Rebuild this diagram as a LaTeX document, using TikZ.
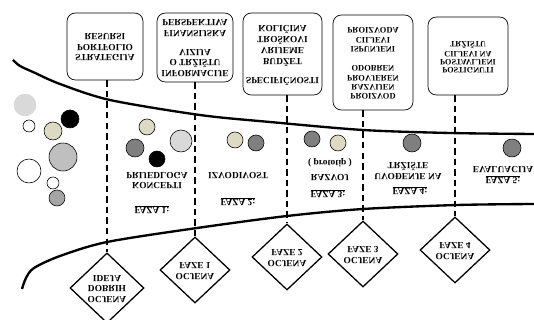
\documentclass[tikz,border=0pt]{standalone}
\usepackage{fontspec}
\setmainfont{Liberation Serif}
\usepackage{graphicx}
\usetikzlibrary{shapes.geometric}
\definecolor{paleball}{HTML}{D9D9D9}
\definecolor{sandball}{HTML}{DDD9C3}
\definecolor{greyball}{HTML}{BFBFBF}
\definecolor{midball}{HTML}{A5A5A5}
\definecolor{darkball}{HTML}{7F7F7F}
\newcommand{\mirrortext}[1]{\scalebox{1}[-1]{\begin{tabular}{@{}c@{}}#1\end{tabular}}}

\begin{document}
\begin{tikzpicture}[x=0.03cm,y=-0.03cm]
 \tikzstyle{every node}=[font=\fontsize{8}{9}\selectfont\bfseries]
 \tikzstyle{goal} = [draw,rounded corners=2.5mm,line width=0.6pt,inner sep=1pt]
 \tikzstyle{gate} = [draw,diamond,line width=1.1pt,inner sep=0pt,minimum width=2.1cm,minimum height=1.98cm]
 \tikzstyle{phase} = [inner sep=0pt]
 \tikzstyle{funnel} = [line width=2pt]
 \tikzstyle{stage} = [line width=1.1pt,dash pattern=on 5.5pt off 3.5pt]
 \tikzstyle{ball} = [draw,line width=0.5pt]

 \useasboundingbox (0,0) rectangle (534,320);

 % funnel walls
 \draw[funnel] plot[smooth] coordinates {(13,60) (20,66) (33,72) (60,84) (110,100) (200,115) (270,122) (363,130) (450,133) (534,134)};
 \draw[funnel] plot[smooth] coordinates {(22,289) (26,278) (34,268) (60,256) (107,242) (197,228) (287,216) (363,209) (457,205) (534,204)};

 % goals
 \node[goal,minimum width=2.28cm,minimum height=2.01cm] (B1) at (105,46.5) {\mirrortext{STRATEGIJA\\PORTFOLIO\\RESURSI}};
 \node[goal,minimum width=2.28cm,minimum height=2.07cm] (B2) at (195,47.5) {\mirrortext{INFORMACIJE\\O TRŽIŠTU\\VIZIJA\\[7pt]FINANSIJSKA\\PERSPEKTIVA}};
 \node[goal,minimum width=2.37cm,minimum height=2.46cm] (B3) at (282.5,54) {\mirrortext{SPECIFIČNOSTI\\[7pt]BUDŽET\\VRIJEME\\TROŠKOVI\\KOLIČINA}};
 \node[goal,minimum width=2.4cm,minimum height=2.85cm,font=\fontsize{7.2}{7.8}\selectfont\bfseries] (B4) at (373,62.5) {\mirrortext{PROIZVOD\\RAZVIJEN\\PROVJEREN\\ODOBREN\\[9pt]ISPUNJENI\\CILJEVI\\PROIZVODA}};
 \node[goal,minimum width=2.4cm,minimum height=2.34cm,font=\fontsize{7}{6.8}\selectfont\bfseries] (B5) at (468,56) {\mirrortext{POSTIGNUTI\\POSTAVLJENI\\CILJEVI NA\\TRŽIŠTU}};

 % gates
 \node[gate,minimum width=2.22cm] (D1) at (107,288) {\mirrortext{OCJENA\\DOBRIH\\IDEJA}};
 \node[gate] (D2) at (195,270) {\mirrortext{OCJENA\\FAZE 1}};
 \node[gate] (D3) at (287,257) {\mirrortext{OCJENA\\FAZE 2}};
 \node[gate] (D4) at (363,254) {\mirrortext{OCJENA\\FAZE 3}};
 \node[gate] (D5) at (455,250) {\mirrortext{OCJENA\\FAZE 4}};

 % phases
 \node[phase] (P1) at (157,179.5) {\mirrortext{KONCEPTI\\PRIJEDLOGA}};
 \node[phase] (L1) at (152,210) {\mirrortext{\underline{FAZA 1:}}};
 \node[phase] (P2) at (238,175) {\mirrortext{IZVODIVOST}};
 \node[phase] (L2) at (238,202) {\mirrortext{\underline{FAZA 2:}}};
 \node[phase] (P3) at (330,169.5) {\mirrortext{RAZVOJ\\[3pt]( prototip )}};
 \node[phase] (L3) at (328,194) {\mirrortext{\underline{FAZA 3:}}};
 \node[phase] (P4) at (408,170) {\mirrortext{UVOĐENJE NA\\TRŽIŠTE}};
 \node[phase] (L4) at (410,191) {\mirrortext{\underline{FAZA 4:}}};
 \node[phase] (P5) at (503,169) {\mirrortext{EVALUACIJA}};
 \node[phase] (L5) at (503,180) {\mirrortext{\underline{FAZA 5:}}};

 % stage lines
 \draw[stage] (D1.north |- B1.south) -- (D1.north);
 \draw[stage] (D2.north |- B2.south) -- (D2.north);
 \draw[stage] (D3.north |- B3.south) -- (D3.north);
 \draw[stage] (D4.north |- B4.south) -- (D4.north);
 \draw[stage] (D5.north |- B5.south) -- (D5.north);

 % ideas
 \draw[ball,draw=paleball,fill=paleball] (25,105) circle[radius=11];
 \draw[ball,fill=white] (29,126) circle[radius=6];
 \draw[ball,fill=black] (70,119) circle[radius=9];
 \draw[ball,fill=sandball] (53,131) circle[radius=9];
 \draw[ball,fill=greyball] (63,157) circle[radius=14];
 \draw[ball,fill=white] (29,171) circle[radius=12];
 \draw[ball,fill=white] (53,183) circle[radius=6];
 \draw[ball,fill=midball] (57,198) circle[radius=8];
 \draw[ball,fill=sandball] (147,127) circle[radius=8];
 \draw[ball,fill=darkball] (135,148) circle[radius=9];
 \draw[ball,fill=paleball] (181,141) circle[radius=11];
 \draw[ball,fill=black] (157,159) circle[radius=8];
 \draw[ball,fill=sandball] (235,140) circle[radius=8];
 \draw[ball,fill=darkball] (256,143) circle[radius=8];
 \draw[ball,fill=darkball] (312,139) circle[radius=8];
 \draw[ball,fill=sandball] (338,143) circle[radius=8];
 \draw[ball,fill=darkball] (412,143) circle[radius=9];
 \draw[ball,fill=darkball] (512,148) circle[radius=9];
\end{tikzpicture}
\end{document}
